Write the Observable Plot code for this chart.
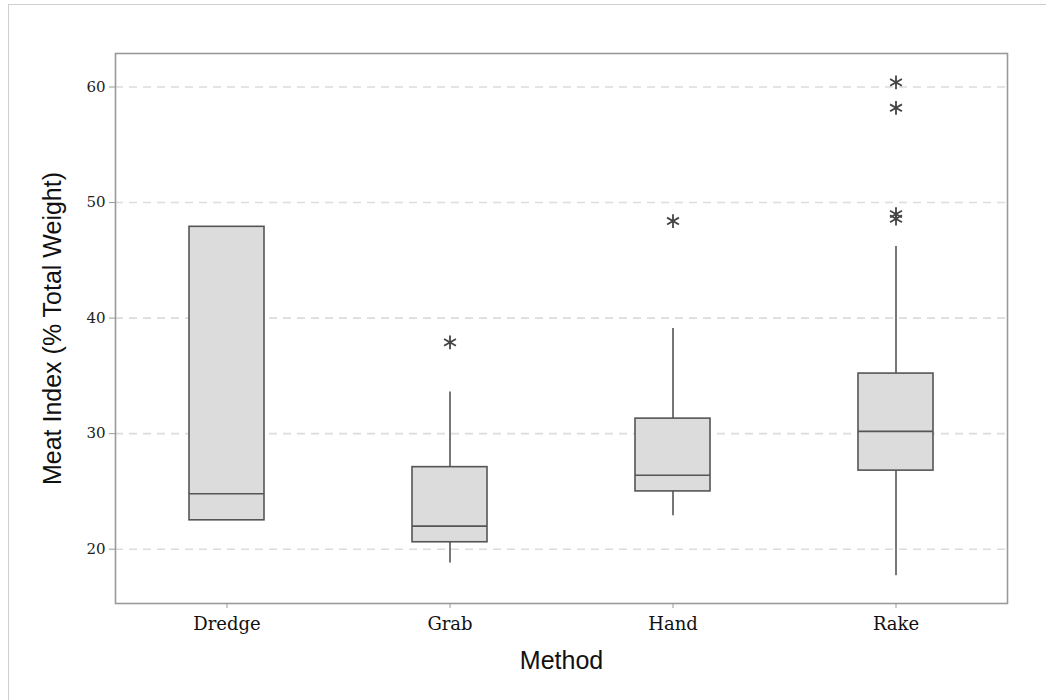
<!DOCTYPE html>
<html>
<head>
<meta charset="utf-8">
<script src="https://cdn.jsdelivr.net/npm/d3@7"></script>
<script src="https://cdn.jsdelivr.net/npm/@observablehq/plot@0.6"></script>
<style>
  html, body { margin: 0; padding: 0; background: #fff; }
  #wrap { position: relative; width: 1046px; height: 700px; overflow: hidden; }
  #border { position: absolute; left: 8px; top: 4px; width: 1100px; height: 800px;
            border-left: 1px solid #cfcfcf; border-top: 1px solid #cfcfcf; }
  #chart { position: absolute; left: 0; top: 0; }
</style>
</head>
<body>
<div id="wrap"><div id="border"></div><div id="chart"></div></div>
<script>
// Box-plot summary values
const methods   = ["Dredge", "Grab", "Hand", "Rake"];
const q1        = [22.5, 20.6, 25.0, 26.8];
const medians   = [24.8, 22.0, 26.4, 30.2];
const q3        = [47.9, 27.1, 31.3, 35.2];
const whiskerLo = [22.5, 18.8, 22.9, 17.7];
const whiskerHi = [47.9, 33.6, 39.1, 46.2];
const outlierMethod = ["Grab", "Hand", "Rake", "Rake", "Rake", "Rake"];
const outlierValue  = [37.9, 48.4, 60.4, 58.2, 49.0, 48.6];
const yTicks = [20, 30, 40, 50, 60];

const boxes = methods.map((m, i) => ({
  method: m, q1: q1[i], median: medians[i], q3: q3[i], lo: whiskerLo[i], hi: whiskerHi[i]
}));
const outliers = outlierMethod.map((m, i) => ({method: m, value: outlierValue[i]}));

const boxInset = 74;
const ink = "#555555";

const chart = Plot.plot({
  width: 1046,
  height: 700,
  marginLeft: 115,
  marginRight: 39,
  marginTop: 53,
  marginBottom: 97,
  style: {background: "transparent", color: "#222"},
  x: {type: "band", domain: methods, padding: 0},
  y: {domain: [15.3, 62.9]},
  marks: [
    Plot.ruleY(yTicks, {stroke: "#dcdcdc", strokeWidth: 1.6, strokeDasharray: "8,6"}),
    Plot.ruleX(boxes, {x: "method", y1: "lo", y2: "hi", stroke: ink, strokeWidth: 1.6}),
    Plot.rect(boxes, {x: "method", y1: "q1", y2: "q3", fill: "#dcdcdc", stroke: ink, strokeWidth: 1.6,
                      insetLeft: boxInset, insetRight: boxInset}),
    Plot.tickY(boxes, {x: "method", y: "median", stroke: ink, strokeWidth: 1.6,
                       insetLeft: boxInset, insetRight: boxInset}),
    Plot.dot(outliers, {x: "method", y: "value", symbol: "asterisk", r: 6.5, stroke: "#444", strokeWidth: 1.8}),
    Plot.frame({stroke: "#999", strokeWidth: 1.6}),
    Plot.axisY({ticks: yTicks, tickSize: 6, tickPadding: 4, stroke: "#999", label: null,
                fontFamily: "DejaVu Serif", fontSize: 15, fill: "#222"}),
    Plot.axisX({tickSize: 5, tickPadding: 9, stroke: "#999", label: null,
                fontFamily: "DejaVu Serif", fontSize: 18, fill: "#111"}),
    Plot.text(["Method"], {frameAnchor: "bottom", dy: 57, text: d => d, fontSize: 25,
                           fontFamily: "Liberation Sans", fill: "#111", lineAnchor: "middle"}),
    Plot.text(["Meat Index (% Total Weight)"], {frameAnchor: "left", dx: -63, rotate: -90, text: d => d,
                           textAnchor: "middle", fontSize: 25, fontFamily: "Liberation Sans",
                           fill: "#111", lineAnchor: "middle"})
  ]
});
document.getElementById("chart").appendChild(chart);
</script>
</body>
</html>
